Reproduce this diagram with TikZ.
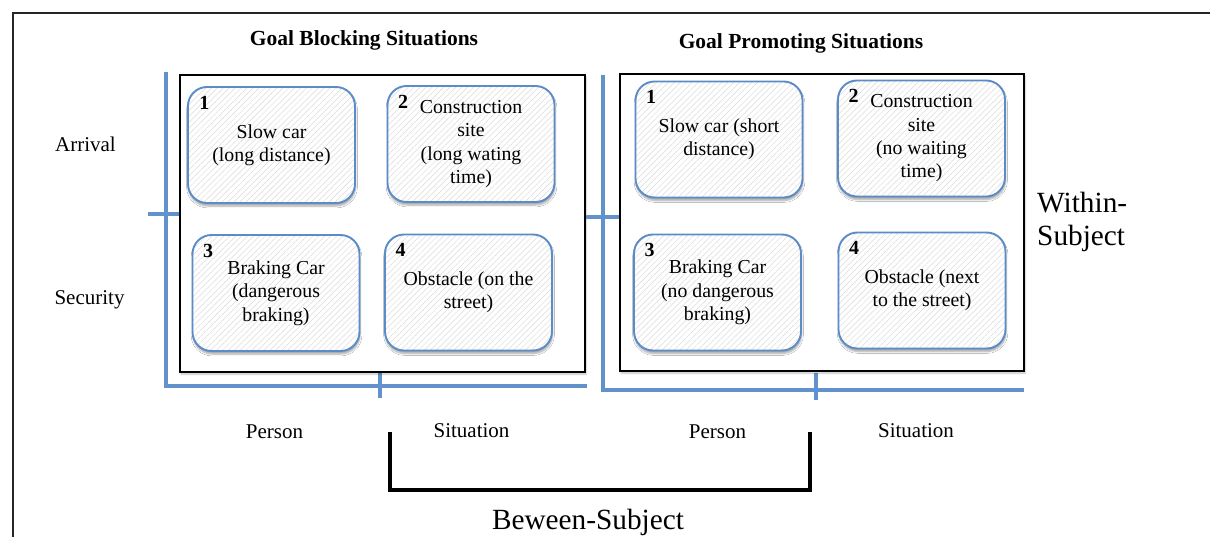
\documentclass[tikz,border=0pt]{standalone}
\usepackage{fontspec}
\setmainfont{Liberation Serif}
\usetikzlibrary{calc,patterns.meta,shadows.blur}

\definecolor{axisblue}{RGB}{98,146,204}
\definecolor{boxblue}{RGB}{92,140,200}

\tikzset{
  sitbox/.style={
    draw=boxblue, line width=1.9pt, rounded corners=19pt,
    minimum width=167pt, minimum height=116pt,
    blur shadow={shadow xshift=0.5pt, shadow yshift=-3pt, shadow blur steps=6, shadow opacity=35},
    preaction={fill=white},
    pattern={Lines[angle=45,distance=4.2pt,line width=0.5pt]},
    pattern color=gray!28,
    align=center, inner sep=0pt,
    font=\fontsize{19.8}{23.3}\selectfont},
  numlabel/.style={font=\fontsize{20}{22}\selectfont\bfseries, inner sep=0pt},
  panel/.style={draw=black, line width=1.8pt, fill=white,
    blur shadow={shadow xshift=1pt, shadow yshift=-2pt, shadow blur steps=4, shadow opacity=25}},
  axis/.style={draw=axisblue, line width=3.3pt},
  rowlabel/.style={font=\fontsize{21}{24}\selectfont, inner sep=0pt},
  title/.style={font=\fontsize{21.5}{24}\selectfont\bfseries, inner sep=0pt},
  biglabel/.style={font=\fontsize{29.3}{33}\selectfont, inner sep=0pt},
  bracket/.style={draw=black, line width=3.3pt},
  frame/.style={draw=black!85, line width=2.8pt}
}

\begin{document}
\begin{tikzpicture}[x=1pt,y=-1pt]
\useasboundingbox (0,0) rectangle (1210,537);

% outer frame (top and left edges)
\draw[frame] (13,537) -- (13,13) -- (1210,13);

% titles
\node[title] (tblock) at (364,40) {Goal Blocking Situations};
\node[title] (tpromo) at (801,43) {Goal Promoting Situations};

% blue axes of the left panel
\draw[axis] (166,72) -- (166,386) -- (587,386);
\draw[axis] (148,214) -- (180,214);
\draw[axis] (380,370) -- (380,398);

% blue axes of the right panel
\draw[axis] (603,75) -- (603,390) -- (1024,390);
\draw[axis] (585,217) -- (620,217);
\draw[axis] (816,373) -- (816,400);

% panels
\draw[panel] (180,75) rectangle (585,372);
\draw[panel] (620,74) rectangle (1024,371);

% ticks redrawn over the panel shadows
\draw[axis] (148,214) -- (179,214);
\draw[axis] (586,217) -- (619,217);

% goal blocking situations
\node[sitbox] (b1) at (271.5,145) {Slow car\\(long distance)};
\node[sitbox] (b2) at (471,144) {Construction\\site\\(long wating\\time)};
\node[sitbox] (b3) at (276,293) {Braking Car\\(dangerous\\braking)};
\node[sitbox] (b4) at (468.5,292.5) {Obstacle (on the\\street)};

% goal promoting situations
\node[sitbox] (p1) at (719,139.5) {Slow car (short\\distance)};
\node[sitbox] (p2) at (921.5,138.5) {Construction\\site\\(no waiting\\time)};
\node[sitbox] (p3) at (717.5,292.5) {Braking Car\\(no dangerous\\braking)};
\node[sitbox] (p4) at (922,290.5) {Obstacle (next\\to the street)};

% situation numbers
\foreach \b/\n in {b1/1,b2/2,b3/3,b4/4,p1/1,p2/2,p3/3,p4/4}
  \node[numlabel] (num-\b) at ($(\b.north west)+(16.5,16.5)$) {\n};

% row labels
\node[rowlabel] (arrival) at (85.5,144) {Arrival};
\node[rowlabel] (security) at (89.5,300) {Security};

% column labels
\node[rowlabel] (person1) at (274.5,432) {Person};
\node[rowlabel] (sit1) at (471.5,431) {Situation};
\node[rowlabel] (person2) at (717.5,432) {Person};
\node[rowlabel] (sit2) at (916,431) {Situation};

% within-subject label
\node[biglabel, anchor=west, align=left] (within) at (1037,222) {Within-\\Subject};

% between-subject bracket
\coordinate (brL) at (390,432);
\coordinate (brR) at (810,432);
\draw[bracket] (brL) -- (390,490) -- (810,490) -- (brR);
\node[biglabel] (between) at (588,522) {Beween-Subject};
\end{tikzpicture}
\end{document}
